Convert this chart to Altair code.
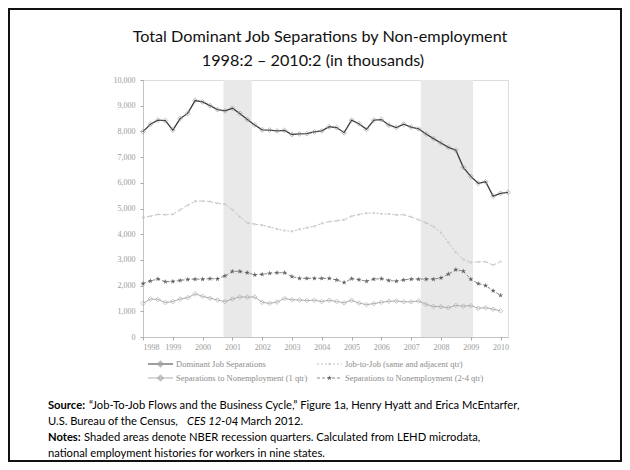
import altair as alt
import pandas as pd

# ---------------- data (thousands of separations, quarterly from 1998:2) ----------------
dominant = [7990, 8280, 8440, 8420, 8050, 8500, 8700, 9200, 9150, 9000,
            8850, 8800, 8900, 8700, 8460, 8250, 8060, 8050, 8020, 8040,
            7880, 7900, 7910, 7980, 8020, 8180, 8150, 7950, 8440, 8300,
            8080, 8440, 8460, 8250, 8150, 8280, 8170, 8100, 7900, 7720,
            7550, 7380, 7270, 6600, 6250, 5980, 6040, 5480, 5590, 5630]
job_to_job = [4650, 4700, 4770, 4760, 4780, 4950, 5130, 5280, 5290, 5270,
              5200, 5170, 4950, 4680, 4440, 4390, 4350, 4280, 4200, 4140,
              4110, 4190, 4250, 4310, 4420, 4490, 4520, 4560, 4700, 4770,
              4820, 4830, 4790, 4790, 4750, 4760, 4670, 4560, 4440, 4300,
              4060, 3680, 3300, 3020, 2900, 2920, 2930, 2800, 2930]
sep_1q = [1310, 1480, 1460, 1340, 1380, 1480, 1530, 1680, 1580, 1510,
          1440, 1380, 1480, 1560, 1550, 1560, 1350, 1310, 1360, 1500,
          1450, 1440, 1420, 1430, 1380, 1430, 1380, 1330, 1430, 1320,
          1260, 1300, 1350, 1390, 1400, 1370, 1370, 1400, 1270, 1190,
          1180, 1140, 1230, 1200, 1220, 1120, 1140, 1080, 1020]
sep_24q = [2080, 2180, 2260, 2150, 2160, 2200, 2240, 2250, 2250, 2270,
           2260, 2380, 2550, 2550, 2500, 2420, 2440, 2480, 2500, 2500,
           2350, 2280, 2280, 2280, 2280, 2280, 2220, 2120, 2270, 2230,
           2170, 2250, 2270, 2200, 2170, 2220, 2250, 2250, 2250, 2250,
           2300, 2450, 2620, 2560, 2250, 2080, 2000, 1800, 1620]
series_names = ["Dominant Job Separations",
                "Job-to-Job (same and adjacent qtr)",
                "Separations to Nonemployment (1 qtr)",
                "Separations to Nonemployment (2-4 qtr)"]
year_labels = list(range(1998, 2011))
rec_start = [10.8, 37.3]
rec_end = [14.6, 44.3]

title_lines = ["Total Dominant Job Separations by Non-employment",
               "1998:2 \u2013 2010:2 (in thousands)"]

# ---------------- frames ----------------
def frame(vals):
    return pd.DataFrame({"q": list(range(len(vals))), "v": vals})

df_dom = frame(dominant)
df_j2j = frame(job_to_job)
df_s1 = frame(sep_1q)
df_s24 = frame(sep_24q)
df_rec = pd.DataFrame({"s": rec_start, "e": rec_end})

W, H = 365, 257
xscale = alt.Scale(domain=[0, 49], nice=False, zero=False)
yscale = alt.Scale(domain=[0, 10000], nice=False)

tick_vals = [4 * i for i in range(len(year_labels))]
x_axis = alt.Axis(values=tick_vals, labelExpr="1998 + datum.value / 4",
                  title=None, grid=False, labelFont="Liberation Serif",
                  labelFontSize=8, labelColor="#9a9a9a", domainColor="#aaaaaa",
                  domainDash=[1, 1], tickColor="#aaaaaa", tickSize=3,
                  labelPadding=3)
y_axis = alt.Axis(values=list(range(0, 10001, 1000)),
                  labelExpr="format(datum.value, ',')", title=None,
                  grid=False, labelFont="Liberation Serif", labelFontSize=8,
                  labelColor="#9a9a9a", domainColor="#aaaaaa", domainDash=[1, 1],
                  tickColor="#aaaaaa", tickSize=3, labelPadding=5)

X = alt.X("q:Q", scale=xscale, axis=x_axis)
Y = alt.Y("v:Q", scale=yscale, axis=y_axis)

rec = alt.Chart(df_rec).mark_rect(color="#e9e9e9").encode(
    x=alt.X("s:Q", scale=xscale, axis=x_axis), x2="e:Q",
    y=alt.value(0), y2=alt.value(H))

STAR = ("M0,-1L0.235,-0.324L0.951,-0.309L0.380,0.124L0.588,0.809L0,0.4"
        "L-0.588,0.809L-0.380,0.124L-0.951,-0.309L-0.235,-0.324Z")

j2j_line = alt.Chart(df_j2j).mark_line(color="#bdbdbd", strokeWidth=1,
                                       strokeDash=[2, 2]).encode(x=X, y=Y)
j2j_pts = alt.Chart(df_j2j).mark_point(shape="circle", filled=True,
                                       color="#c8c8c8", size=6).encode(x=X, y=Y)
s1_line = alt.Chart(df_s1).mark_line(color="#b0b0b0", strokeWidth=1).encode(x=X, y=Y)
s1_pts = alt.Chart(df_s1).mark_point(shape="diamond", filled=False, color="#a8a8a8",
                                     size=22, strokeWidth=0.9).encode(x=X, y=Y)
s24_line = alt.Chart(df_s24).mark_line(color="#8a8a8a", strokeWidth=1,
                                       strokeDash=[3, 2]).encode(x=X, y=Y)
s24_pts = alt.Chart(df_s24).mark_point(shape=STAR, filled=True, color="#3a3a3a",
                                       size=30).encode(x=X, y=Y)
dom_line = alt.Chart(df_dom).mark_line(color="#3c3c3c", strokeWidth=1.3).encode(x=X, y=Y)
dom_pts = alt.Chart(df_dom).mark_point(shape="diamond", filled=False, color="#a0a0a0",
                                       size=24, strokeWidth=1).encode(x=X, y=Y)

layers = [rec, j2j_line, j2j_pts, s1_line, s1_pts, s24_line, s24_pts, dom_line, dom_pts]

def txt(text, x, y, size, font="Lato", weight="normal", style="normal",
        color="#000000", align="left"):
    return alt.Chart(pd.DataFrame({"t": [text]})).mark_text(
        font=font, fontSize=size, fontWeight=weight, fontStyle=style,
        color=color, align=align, baseline="middle").encode(
        text="t:N", x=alt.value(x), y=alt.value(y))

# title
layers.append(txt(title_lines[0], 177, -43, 16.2, align="center", color="#111111"))
layers.append(txt(title_lines[1], 170, -19, 16.2, align="center", color="#111111"))

# legend (custom, two columns)
leg_pos = [(5, 284), (174, 284), (5, 298), (174, 298)]
leg_style = [
    dict(lc="#3c3c3c", dash=None, shape="diamond", pc="#a0a0a0", filled=False, size=24),
    dict(lc="#bdbdbd", dash=[2, 2], shape="circle", pc="#c8c8c8", filled=True, size=6),
    dict(lc="#b0b0b0", dash=None, shape="diamond", pc="#a8a8a8", filled=False, size=22),
    dict(lc="#8a8a8a", dash=[3, 2], shape=STAR, pc="#3a3a3a", filled=True, size=30),
]
for name, (lx, ly), st in zip(series_names, leg_pos, leg_style):
    rk = dict(color=st["lc"], strokeWidth=1)
    if st["dash"]:
        rk["strokeDash"] = st["dash"]
    layers.append(alt.Chart(pd.DataFrame({"n": [name]})).mark_rule(**rk).encode(
        x=alt.value(lx), x2=alt.value(lx + 25), y=alt.value(ly)))
    layers.append(alt.Chart(pd.DataFrame({"n": [name]})).mark_point(
        shape=st["shape"], filled=st["filled"], color=st["pc"], size=st["size"]).encode(
        x=alt.value(lx + 12.5), y=alt.value(ly)))
    layers.append(txt(name, lx + 28, ly, 8.5, font="Liberation Serif", color="#8c8c8c"))

# source / notes
fs = 11.2
layers.append(txt("Source:", -95, 326, fs, weight="bold"))
layers.append(txt("\u201cJob-To-Job Flows and the Business Cycle,\u201d Figure 1a,  Henry Hyatt and Erica McEntarfer,",
                  -54, 326, fs))
layers.append(txt("U.S. Bureau of the Census,", -95, 342, fs))
layers.append(txt("CES 12-04", 44, 342, fs, style="italic"))
layers.append(txt(", March 2012.", 92, 342, fs))
layers.append(txt("Notes:", -95, 358, fs, weight="bold"))
layers.append(txt("Shaded areas denote NBER recession quarters.  Calculated from LEHD microdata,",
                  -59, 358, fs))
layers.append(txt("national employment histories for workers in nine states.", -95, 374, fs))

# outer frame
layers.append(alt.Chart(pd.DataFrame({"f": [0]})).mark_rect(
    fill="transparent", stroke="#111111", strokeWidth=2).encode(
    x=alt.value(-134), x2=alt.value(478), y=alt.value(-71), y2=alt.value(381)))

chart = alt.layer(*layers).properties(
    width=W, height=H,
    autosize=alt.AutoSizeParams(type="none"),
    padding={"left": 135, "top": 72, "right": 114, "bottom": 125},
).configure_view(stroke=None).configure(background="white")

chart.save("out.html", embed_options={"renderer": "svg", "actions": False})
